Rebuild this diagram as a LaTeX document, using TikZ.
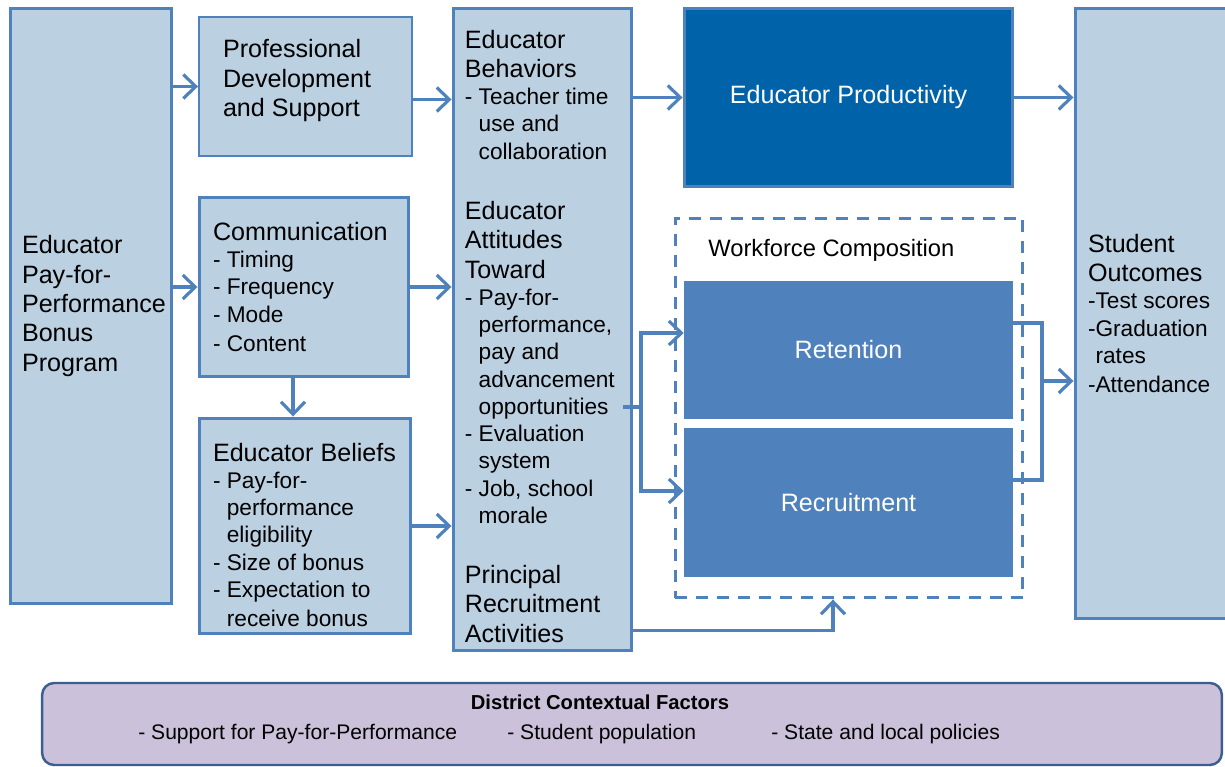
\documentclass[tikz,border=0pt]{standalone}
\usepackage{fontspec}
\setmainfont{Liberation Sans}
\usetikzlibrary{arrows.meta,positioning}

\definecolor{boxfill}{RGB}{187,208,225}
\definecolor{boxline}{RGB}{79,129,189}
\definecolor{prodfill}{RGB}{0,98,168}
\definecolor{distfill}{RGB}{204,193,218}
\definecolor{distline}{RGB}{60,94,140}

\newcommand{\headfont}{\fontsize{14.3}{16.7}\selectfont}
\newcommand{\itemfont}{\fontsize{12.9}{15.5}\selectfont}
\hyphenpenalty=10000
\exhyphenpenalty=10000

\begin{document}
\begin{tikzpicture}[x=0.02cm,y=-0.02cm]
    \tikzstyle{box}=[rectangle,draw=boxline,fill=boxfill,line width=1.7pt,inner ysep=0pt,align=flush left,font=\headfont]
    \tikzstyle{dark}=[rectangle,draw=boxline,fill=prodfill,line width=1.7pt,text=white,font=\headfont]   % productivity
    \tikzstyle{mid}=[rectangle,fill=boxline,text=white,font=\headfont,minimum width=6.58cm]             % workforce parts
    \tikzstyle{txt}=[inner sep=0pt,align=flush left,font=\headfont]

    \tikzstyle{arr}=[line width=1.8pt,draw=boxline,-{Straight Barb[length=2.5mm,width=4.8mm]}]
    \tikzstyle{link}=[line width=1.8pt,draw=boxline]

    \useasboundingbox (0,0) rectangle (1225,767);

    \node[box,minimum width=3.24cm,minimum height=11.92cm,inner xsep=0.24cm,text width=2.76cm] (0) at (91,306)
        {Educator\\Pay-for-\\Performance\\Bonus\\Program};
    \node[box,line width=1.1pt,minimum width=4.26cm,minimum height=2.78cm,inner xsep=0.48cm,text width=3.3cm] (1) at (305.5,86.5)
        {Professional\\Development\\and Support\rule[-9.6pt]{0pt}{9.6pt}};
    \node[box,minimum width=4.2cm,minimum height=3.6cm,inner xsep=0.28cm,text width=3.64cm] (2) at (304,287)
        {Communication\par\itemfont - Timing\\- Frequency\\- Mode\\- Content};
    \node[box,minimum width=4.24cm,minimum height=4.32cm,inner xsep=0.28cm,text width=3.68cm] (3) at (305,526)
        {\rule{0pt}{20.5pt}Educator~Beliefs\par\itemfont - Pay-for-\\\phantom{- }performance\\\phantom{- }eligibility\\- Size of bonus\\- Expectation to\\\phantom{- }receive bonus};
    \node[box,minimum width=3.58cm,minimum height=12.86cm] (4) at (542.5,329.5) {};
    \node[txt,text width=3.3cm,anchor=north west] (4t) at ([shift={(0.26cm,-0.46cm)}]4.north west)
        {Educator\\Behaviors\par
        \itemfont - Teacher time\\\phantom{- }use and\\\phantom{- }collaboration\par\vskip0.62cm\relax
        \headfont Educator\\Attitudes\\Toward\par
        \itemfont - Pay-for-\\\phantom{- }performance,\\\phantom{- }pay and\\\phantom{- }advancement\\\phantom{- }opportunities\\
        - Evaluation\\\phantom{- }system\\- Job, school\\\phantom{- }morale\par\vskip0.62cm\relax
        \headfont Principal\\Recruitment\\Activities};

    \node[dark,minimum width=6.58cm,minimum height=3.58cm] (5) at (848.5,97.5) {Educator Productivity};
    \node[rectangle,draw=boxline,line width=1.7pt,dash pattern=on 0.24cm off 0.18cm,minimum width=6.96cm,minimum height=7.6cm] (6) at (849,408) {};
    \node[txt,anchor=west,font=\fontsize{13.5}{15}\selectfont] (6t) at (708,250) {Workforce Composition};
    \node[mid,minimum height=2.76cm] (7) at (848.5,350) {Retention};
    \node[mid,minimum height=2.98cm] (8) at (848.5,502.5) {Recruitment};

    \node[box,minimum width=3.3cm,minimum height=12.22cm,inner xsep=0.26cm,text width=2.78cm] (9) at (1157.5,313.5)
        {Student\\Outcomes\par\itemfont -Test scores\\-Graduation\\\phantom{-}rates\\-Attendance};

    \node[rectangle,rounded corners=0.24cm,draw=distline,fill=distfill,line width=1.4pt,minimum width=23.6cm,minimum height=1.64cm] (10) at (632,724) {};
    \node[txt,font=\fontsize{11.5}{13}\selectfont\bfseries] (10t) at (600,702) {District Contextual Factors};
    \node[txt,anchor=west,font=\fontsize{12}{13}\selectfont] (10a) at (138,734) {- Support for Pay-for-Performance};
    \node[txt,anchor=west,font=\fontsize{12}{13}\selectfont] (10b) at (507,734) {- Student population};
    \node[txt,anchor=west,font=\fontsize{12}{13}\selectfont] (10c) at (771,734) {- State and local policies};

    \draw[arr] (0.east |- 1.west) -- (1.west);
    \draw[arr] (0.east |- 2.west) -- (2.west);
    \draw[arr] ([yshift=-0.26cm]1.east) -- ([yshift=-0.26cm]1.east -| 4.west);
    \draw[arr] (2.east) -- (2.east -| 4.west);
    \draw[arr] ([xshift=-0.22cm]2.south) -- ([xshift=-0.22cm]2.south |- 3.north);
    \draw[arr] (3.east) -- (3.east -| 4.west);
    \draw[arr] (4.east |- 5.west) -- (5.west);
    \draw[arr] (5.east) -- (5.east -| 9.west);

    % fork to retention and recruitment
    \coordinate (f1) at (641,407);
    \draw[link] ([xshift=-0.2cm]4.east |- f1) -- (f1);
    \draw[arr] (f1) |- ([yshift=0.34cm]7.west);
    \draw[arr] (f1) |- ([yshift=0.23cm]8.west);

    % join to student outcomes
    \coordinate (f2) at (1042,381);
    \draw[link] ([yshift=0.54cm]7.east) -| ([yshift=0.45cm]8.east -| f2) -- ([yshift=0.45cm]8.east);
    \draw[arr] (f2) -- (f2 -| 9.west);

    \draw[arr] ([yshift=0.44cm]4.south east) -| ([xshift=-0.32cm]6.south);
\end{tikzpicture}
\end{document}
